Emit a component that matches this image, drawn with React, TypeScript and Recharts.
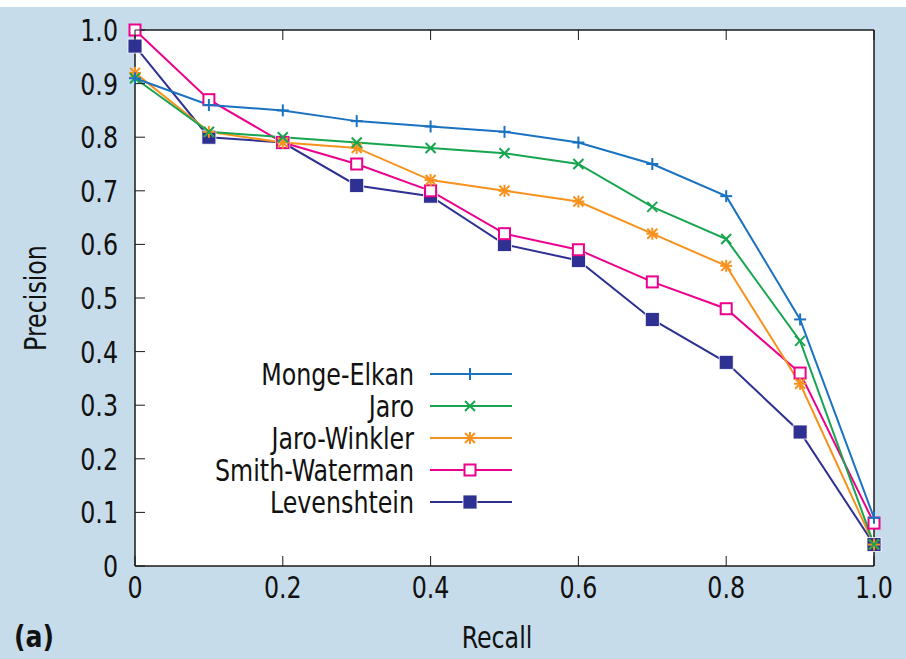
import React from "react";
import { LineChart, Line, XAxis, YAxis } from "recharts";

const recall = [0, 0.1, 0.2, 0.3, 0.4, 0.5, 0.6, 0.7, 0.8, 0.9, 1.0];
const mongeElkan = [0.91, 0.86, 0.85, 0.83, 0.82, 0.81, 0.79, 0.75, 0.69, 0.46, 0.09];
const jaro = [0.91, 0.81, 0.8, 0.79, 0.78, 0.77, 0.75, 0.67, 0.61, 0.42, 0.04];
const jaroWinkler = [0.92, 0.81, 0.79, 0.78, 0.72, 0.7, 0.68, 0.62, 0.56, 0.34, 0.04];
const smithWaterman = [1.0, 0.87, 0.79, 0.75, 0.7, 0.62, 0.59, 0.53, 0.48, 0.36, 0.08];
const levenshtein = [0.97, 0.8, 0.79, 0.71, 0.69, 0.6, 0.57, 0.46, 0.38, 0.25, 0.04];

const xTicks = [0, 0.2, 0.4, 0.6, 0.8, 1.0];
const yTicks = [0, 0.1, 0.2, 0.3, 0.4, 0.5, 0.6, 0.7, 0.8, 0.9, 1.0];

type Marker = "plus" | "cross" | "star" | "openSquare" | "filledSquare";

const SERIES: { key: string; name: string; values: number[]; color: string; marker: Marker }[] = [
  { key: "mongeElkan", name: "Monge-Elkan", values: mongeElkan, color: "#1a72c0", marker: "plus" },
  { key: "jaro", name: "Jaro", values: jaro, color: "#17a550", marker: "cross" },
  { key: "jaroWinkler", name: "Jaro-Winkler", values: jaroWinkler, color: "#f7921e", marker: "star" },
  { key: "smithWaterman", name: "Smith-Waterman", values: smithWaterman, color: "#ec008c", marker: "openSquare" },
  { key: "levenshtein", name: "Levenshtein", values: levenshtein, color: "#2e3192", marker: "filledSquare" },
];

const data = recall.map((r, i) => {
  const row: Record<string, number> = { recall: r };
  SERIES.forEach(s => { row[s.key] = s.values[i]; });
  return row;
});

const FONT = "'Liberation Sans Narrow', 'DejaVu Sans Condensed', 'Roboto Condensed', sans-serif";
const FS = 30;
const SX = 0.88;
const BG = "#c6dcea";
const AXIS = "#1a1a1a";

const fmt = (v: number) => (v === 0 ? "0" : v.toFixed(1));

// condensed text: the original uses a narrow Helvetica, so squeeze horizontally
function NarrowText({ x, y, anchor, children, rotate }: { x: number; y: number; anchor: "start" | "middle" | "end"; children: React.ReactNode; rotate?: boolean }) {
  const tf = rotate ? `translate(${x},${y}) rotate(-90) scale(${SX},1)` : `translate(${x},${y}) scale(${SX},1)`;
  return (
    <text x={0} y={0} transform={tf} textAnchor={anchor} fontFamily={FONT} fontSize={FS} fill="#111">
      {children}
    </text>
  );
}

function MarkerShape({ kind, color, cx, cy }: { kind: Marker; color: string; cx: number; cy: number }) {
  const s = 6;
  switch (kind) {
    case "plus":
      return (
        <g stroke={color} strokeWidth={2}>
          <line x1={cx - s} y1={cy} x2={cx + s} y2={cy} />
          <line x1={cx} y1={cy - s} x2={cx} y2={cy + s} />
        </g>
      );
    case "cross":
      return (
        <g stroke={color} strokeWidth={2}>
          <line x1={cx - 5} y1={cy - 5} x2={cx + 5} y2={cy + 5} />
          <line x1={cx - 5} y1={cy + 5} x2={cx + 5} y2={cy - 5} />
        </g>
      );
    case "star":
      return (
        <g stroke={color} strokeWidth={2}>
          <line x1={cx - s} y1={cy} x2={cx + s} y2={cy} />
          <line x1={cx} y1={cy - s} x2={cx} y2={cy + s} />
          <line x1={cx - 5} y1={cy - 5} x2={cx + 5} y2={cy + 5} />
          <line x1={cx - 5} y1={cy + 5} x2={cx + 5} y2={cy - 5} />
        </g>
      );
    case "openSquare":
      return <rect x={cx - 5.5} y={cy - 5.5} width={11} height={11} fill="#fff" stroke={color} strokeWidth={2} />;
    default:
      return <rect x={cx - 7} y={cy - 7} width={14} height={14} fill={color} stroke="#fff" strokeWidth={0.8} />;
  }
}

const BottomTick = (props: any) => {
  const { x, y, payload } = props;
  return (
    <g>
      <line x1={x} y1={y} x2={x} y2={y - 10} stroke={AXIS} strokeWidth={1} />
      <NarrowText x={x} y={y + 32} anchor="middle">{fmt(payload.value)}</NarrowText>
    </g>
  );
};

const LeftTick = (props: any) => {
  const { x, y, payload } = props;
  return (
    <g>
      <line x1={x} y1={y} x2={x + 10} y2={y} stroke={AXIS} strokeWidth={1} />
      <NarrowText x={x - 17} y={y + 11} anchor="end">{fmt(payload.value)}</NarrowText>
    </g>
  );
};

const TopTick = (props: any) => {
  const { x, y } = props;
  return <line x1={x} y1={y} x2={x} y2={y + 10} stroke={AXIS} strokeWidth={1} />;
};

const RightTick = (props: any) => {
  const { x, y } = props;
  return <line x1={x} y1={y} x2={x - 10} y2={y} stroke={AXIS} strokeWidth={1} />;
};

function LegendBox() {
  return (
    <svg style={{ position: "absolute", left: 0, top: 0 }} width={906} height={659}>
      {SERIES.map((s, i) => {
        const cy = 374 + i * 32;
        return (
          <g key={s.key}>
            <NarrowText x={414} y={cy + 11} anchor="end">{s.name}</NarrowText>
            <line x1={430} y1={cy} x2={512} y2={cy} stroke={s.color} strokeWidth={2} />
            <MarkerShape kind={s.marker} color={s.color} cx={470} cy={cy} />
          </g>
        );
      })}
    </svg>
  );
}

export default function App() {
  const drawOrder = [...SERIES].reverse();
  return (
    <div style={{ position: "absolute", left: 0, top: 0, width: 906, height: 659, background: BG, overflow: "hidden" }}>
      <div style={{ position: "absolute", left: 0, top: 0, width: 906, height: 7, background: "#fff" }} />
      <LineChart width={906} height={659} data={data} margin={{ top: 29, right: 31, bottom: 92, left: 134 }}>
        <rect x={135} y={30} width={739} height={536} fill="#fff" />
        <XAxis
          dataKey="recall" type="number" domain={[0, 1]} ticks={xTicks} height={1}
          tick={<BottomTick />} tickSize={0} tickMargin={0} tickLine={false}
          axisLine={{ stroke: AXIS, strokeWidth: 1.5 }} interval={0}
        />
        <XAxis
          xAxisId="top" orientation="top" dataKey="recall" type="number" domain={[0, 1]} ticks={xTicks} height={1}
          tick={<TopTick />} tickSize={0} tickMargin={0} tickLine={false}
          axisLine={{ stroke: AXIS, strokeWidth: 1.5 }} interval={0}
        />
        <YAxis
          type="number" domain={[0, 1]} ticks={yTicks} width={1}
          tick={<LeftTick />} tickSize={0} tickMargin={0} tickLine={false}
          axisLine={{ stroke: AXIS, strokeWidth: 1.5 }} interval={0}
        />
        <YAxis
          yAxisId="right" orientation="right" type="number" domain={[0, 1]} ticks={yTicks} width={1}
          tick={<RightTick />} tickSize={0} tickMargin={0} tickLine={false}
          axisLine={{ stroke: AXIS, strokeWidth: 1.5 }} interval={0}
        />
        {drawOrder.map(s => (
          <Line
            key={s.key}
            dataKey={s.key}
            type="linear"
            stroke={s.color}
            strokeWidth={2}
            isAnimationActive={false}
            dot={(p: any) => <MarkerShape key={`${s.key}-${p.index}`} kind={s.marker} color={s.color} cx={p.cx} cy={p.cy} />}
            activeDot={false}
          />
        ))}
        <NarrowText x={497} y={648} anchor="middle">Recall</NarrowText>
        <NarrowText x={46} y={298} anchor="middle" rotate>Precision</NarrowText>
        <text
          x={0} y={0} transform="translate(14,647) scale(0.9,1.1)"
          fontFamily="'DejaVu Sans', sans-serif" fontWeight={900} fontSize={28} fill="#111"
        >
          (a)
        </text>
      </LineChart>
      <LegendBox />
    </div>
  );
}
